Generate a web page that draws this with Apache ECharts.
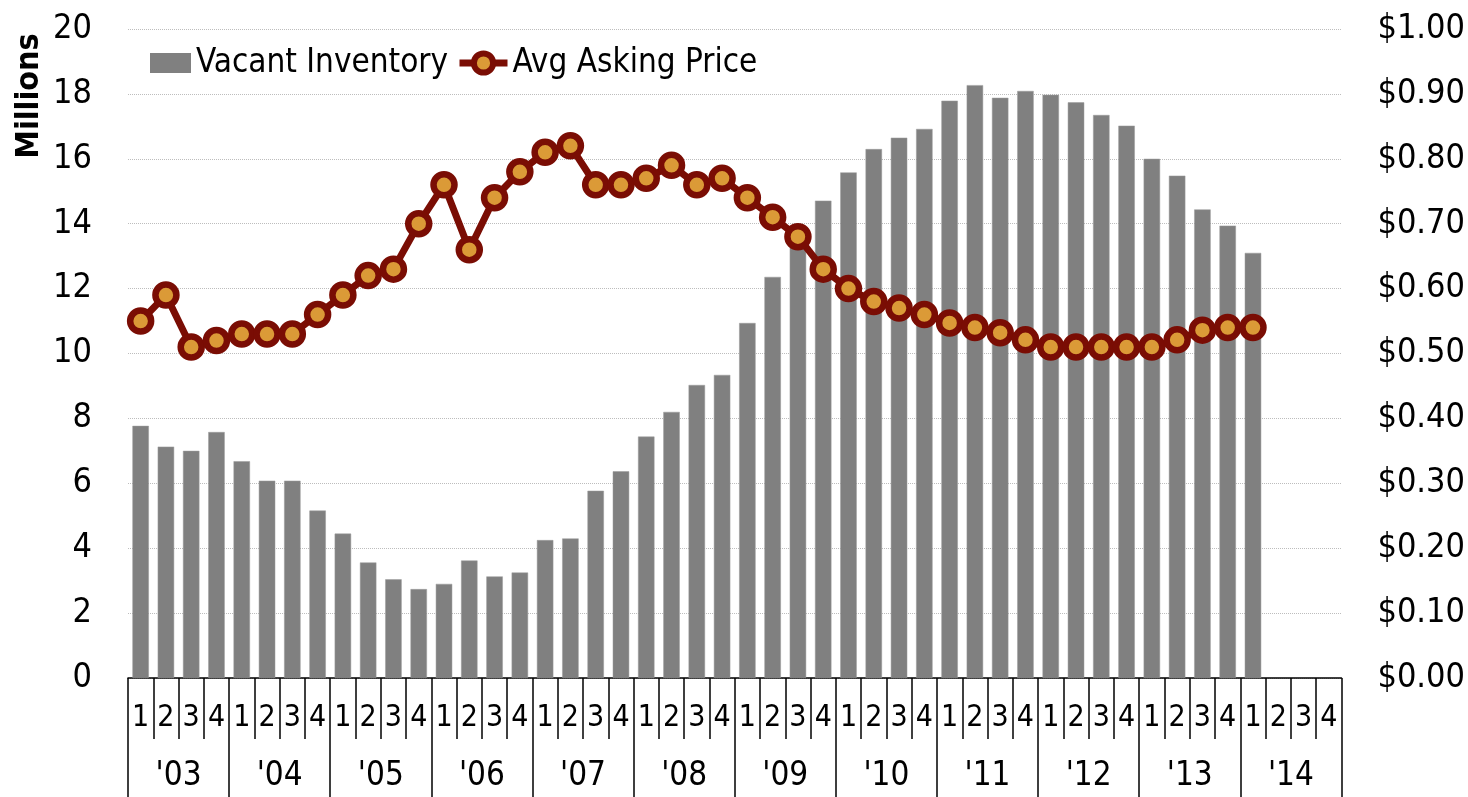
<!DOCTYPE html>
<html>
<head>
<meta charset="utf-8">
<script src="https://cdn.jsdelivr.net/npm/echarts@6/dist/echarts.min.js"></script>
<style>
  html, body { margin: 0; padding: 0; background: #fff; }
  #chart { width: 1468px; height: 797px; }
</style>
</head>
<body>
<div id="chart"></div>
<script>
// ---- Data ----
const years = ["'03", "'04", "'05", "'06", "'07", "'08", "'09", "'10", "'11", "'12", "'13", "'14"];
const quarterLabels = [
  '1','2','3','4', '1','2','3','4', '1','2','3','4', '1','2','3','4',
  '1','2','3','4', '1','2','3','4', '1','2','3','4', '1','2','3','4',
  '1','2','3','4', '1','2','3','4', '1','2','3','4', '1','2','3','4'
];
// Vacant inventory (millions), 2003 Q1 .. 2014 Q1
const vacantInventory = [
  7.77, 7.13, 7.00, 7.58,
  6.68, 6.08, 6.08, 5.16,
  4.45, 3.56, 3.04, 2.74,
  2.90, 3.62, 3.13, 3.25,
  4.25, 4.30, 5.77, 6.37,
  7.44, 8.20, 9.03, 9.34,
  10.94, 12.36, 13.40, 14.71,
  15.58, 16.30, 16.65, 16.92,
  17.79, 18.27, 17.88, 18.09,
  17.97, 17.74, 17.35, 17.02,
  16.00, 15.48, 14.44, 13.94,
  13.10
];
// Average asking price ($), 2003 Q1 .. 2014 Q1
const askingPrice = [
  0.55, 0.59, 0.51, 0.52,
  0.53, 0.53, 0.53, 0.56,
  0.59, 0.62, 0.63, 0.70,
  0.76, 0.66, 0.74, 0.78,
  0.81, 0.82, 0.76, 0.76,
  0.77, 0.79, 0.76, 0.77,
  0.74, 0.71, 0.68, 0.63,
  0.60, 0.58, 0.57, 0.56,
  0.547, 0.54, 0.532, 0.521,
  0.51, 0.51, 0.51, 0.51,
  0.51, 0.521, 0.536, 0.54,
  0.54
];
const leftTicks = { min: 0, max: 20, interval: 2 };
const rightTicks = { min: 0, max: 1, interval: 0.1 };

// ---- Styles ----
const FONT = '"DejaVu Sans Condensed", "Liberation Sans Narrow", sans-serif';
const BAR_COLOR = '#808080';
const LINE_COLOR = '#7A0D04';
const MARKER_FILL = '#DB9A37';

const chart = echarts.init(document.getElementById('chart'), null, { renderer: 'canvas' });

const option = {
  animation: false,
  backgroundColor: '#ffffff',
  textStyle: { fontFamily: FONT, color: '#000' },
  grid: { left: 128, right: 122, top: 29, bottom: 119, containLabel: false },
  legend: [
    {
      data: [{ name: 'Vacant Inventory', icon: 'rect' }],
      left: 150, top: 46, padding: 0,
      itemWidth: 41, itemHeight: 20,
      textStyle: { fontFamily: FONT, fontSize: 33, color: '#000', lineHeight: 34 },
      itemStyle: { color: BAR_COLOR, borderWidth: 0 },
      selectedMode: false
    },
    {
      data: ['Avg Asking Price'],
      left: 456, top: 46, padding: 0,
      itemWidth: 48, itemHeight: 24,
      textStyle: { fontFamily: FONT, fontSize: 33, color: '#000', lineHeight: 34 },
      itemStyle: { color: MARKER_FILL, borderColor: LINE_COLOR, borderWidth: 6 },
      lineStyle: { color: LINE_COLOR, width: 7 },
      selectedMode: false
    }
  ],
  graphic: [
    {
      type: 'text',
      x: 30, y: 96,
      rotation: Math.PI / 2,
      style: {
        text: 'Millions',
        font: 'bold 32px ' + FONT,
        fill: '#000',
        align: 'center',
        verticalAlign: 'middle'
      }
    }
  ],
  xAxis: [
    {
      type: 'category',
      data: quarterLabels,
      position: 'bottom',
      boundaryGap: true,
      axisLine: { show: true, lineStyle: { color: '#000', width: 1.5 } },
      axisTick: { show: true, interval: 0, length: 61, lineStyle: { color: '#000', width: 1.5 } },
      axisLabel: {
        interval: 0, margin: 40, fontSize: 30, color: '#000', fontFamily: FONT,
        verticalAlign: 'middle'
      },
      splitLine: { show: false }
    },
    {
      type: 'category',
      data: years,
      position: 'bottom',
      boundaryGap: true,
      axisLine: { show: false },
      axisTick: { show: true, interval: 0, length: 119, lineStyle: { color: '#000', width: 1.5 } },
      axisLabel: {
        interval: 0, margin: 98, fontSize: 33, color: '#000', fontFamily: FONT,
        verticalAlign: 'middle'
      },
      splitLine: { show: false }
    }
  ],
  yAxis: [
    {
      type: 'value',
      min: leftTicks.min, max: leftTicks.max, interval: leftTicks.interval,
      position: 'left',
      axisLine: { show: false },
      axisTick: { show: false },
      axisLabel: { margin: 36, fontSize: 34, color: '#000', fontFamily: FONT },
      splitLine: { show: true, lineStyle: { color: '#bdbdbd', width: 1, type: 'dotted' } }
    },
    {
      type: 'value',
      min: rightTicks.min, max: rightTicks.max, interval: rightTicks.interval,
      position: 'right',
      axisLine: { show: false },
      axisTick: { show: false },
      axisLabel: {
        margin: 36, fontSize: 34, color: '#000', fontFamily: FONT,
        formatter: v => '$' + v.toFixed(2)
      },
      splitLine: { show: false }
    }
  ],
  series: [
    {
      name: 'Vacant Inventory',
      type: 'bar',
      xAxisIndex: 0, yAxisIndex: 0,
      data: vacantInventory,
      barWidth: '65%',
      itemStyle: { color: BAR_COLOR, borderColor: '#9a9a9a', borderWidth: 0.5 },
      z: 2
    },
    {
      name: 'Avg Asking Price',
      type: 'line',
      xAxisIndex: 0, yAxisIndex: 1,
      data: askingPrice,
      symbol: 'circle',
      symbolSize: 21,
      lineStyle: { color: LINE_COLOR, width: 7 },
      itemStyle: { color: MARKER_FILL, borderColor: LINE_COLOR, borderWidth: 6.5 },
      z: 3
    }
  ]
};

chart.setOption(option);
</script>
</body>
</html>
